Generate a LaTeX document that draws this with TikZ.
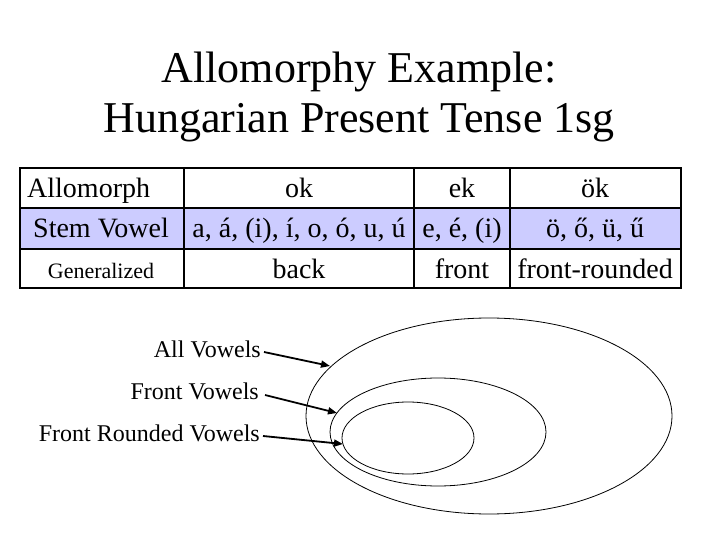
\documentclass[tikz,border=0pt]{standalone}
\usepackage{fontspec}
\setmainfont{Liberation Serif}
\usetikzlibrary{arrows.meta}
\definecolor{lav}{RGB}{204,204,255}
\begin{document}
\begin{tikzpicture}[x=1pt,y=-1pt,
  ttl/.style={font=\fontsize{44}{50}\selectfont, anchor=base, inner sep=0},
  cell/.style={font=\fontsize{28}{32}\selectfont, anchor=base, inner sep=0},
  small/.style={font=\fontsize{22}{26}\selectfont, anchor=base, inner sep=0},
  lbl/.style={font=\fontsize{24}{28}\selectfont, anchor=base east, inner sep=0},
  grid/.style={line width=2.2pt},
  arr/.style={line width=1.8pt, -{Triangle[length=9pt,width=7pt]}},
  ell/.style={line width=0.8pt}]
\useasboundingbox (0,0) rectangle (720,540);
% title
\node[ttl] (t1) at (359,83) {Allomorphy Example:};
\node[ttl] (t2) at (359,133) {Hungarian Present Tense 1sg};
% table
\fill[lav] (20,208) rectangle (681,249);
\draw[grid] (20,168) rectangle (681,288);
\draw[grid] (20,208) -- (681,208) (20,249) -- (681,249);
\draw[grid] (184,168) -- (184,288) (414,168) -- (414,288) (510,168) -- (510,288);
\node[cell, anchor=base west] (a1) at (27,197) {Allomorph};
\node[cell] (a2) at (299,197) {ok};
\node[cell] (a3) at (462,197) {ek};
\node[cell] (a4) at (595,197) {ök};
\node[cell] (b1) at (101,237) {Stem Vowel};
\node[cell] (b2) at (299,237) {a, á, (i), í, o, ó, u, ú};
\node[cell] (b3) at (462,237) {e, é, (i)};
\node[cell] (b4) at (595,237) {ö, ő, ü, ű};
\node[small] (c1) at (101,278) {Generalized};
\node[cell] (c2) at (299,278) {back};
\node[cell] (c3) at (462,278) {front};
\node[cell] (c4) at (595,278) {front-rounded};
% ellipses
\draw[ell] (489,416) ellipse [x radius=183, y radius=98];
\draw[ell] (438,432) ellipse [x radius=108, y radius=54];
\draw[ell] (408,438) ellipse [x radius=66, y radius=36];
\coordinate (e1) at (330,366);
\coordinate (e2) at (337,413);
\coordinate (e3) at (343,444);
% labels
\node[lbl] (l1) at (261,357) {All Vowels};
\node[lbl] (l2) at (259,399) {Front Vowels};
\node[lbl] (l3) at (260,441) {Front Rounded Vowels};
\draw[arr] (l1.base east) ++(3,-5) coordinate (s1) -- (e1);
\draw[arr] (l2.base east) ++(6,-4) coordinate (s2) -- (e2);
\draw[arr] (l3.base east) ++(3,-5) coordinate (s3) -- (e3);
\end{tikzpicture}
\end{document}
